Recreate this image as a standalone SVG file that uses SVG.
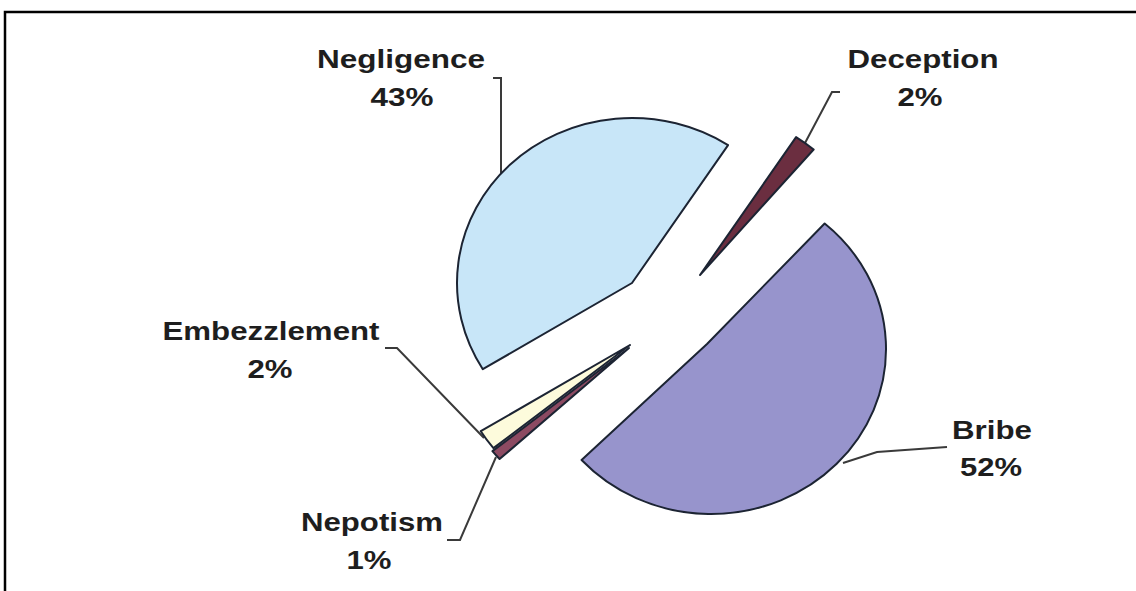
<svg xmlns="http://www.w3.org/2000/svg" width="1136" height="591" viewBox="0 0 1136 591">
<style>
.lbl{font-family:"Liberation Sans",Arial,sans-serif;font-weight:bold;font-size:26px;fill:#1e1e1e;text-anchor:middle}
.slice{stroke:#1c2433;stroke-width:2;stroke-linejoin:round}
.lead{fill:none;stroke:#3a3a3a;stroke-width:2}
</style>
<rect width="1136" height="591" fill="#ffffff"/>
<path d="M5,591 V12 H1136" fill="none" stroke="#000" stroke-width="2.5"/>
<g id="connectors">
<path class="lead" d="M493,78 H501 V175"/>
<path class="lead" d="M840,92 H832 L805,143"/>
<path class="lead" d="M947,447 L877,452 L843,463"/>
<path class="lead" d="M385,348 H397 L484,438"/>
<path class="lead" d="M447,540 H460 L496,457"/>
</g>
<g id="bribe">
<path class="slice" fill="#9794cc" d="M707,344 L824.65,223.53 A175,165 0 1 1 581.57,460.05 Z"/>
<text class="lbl" x="992" y="439" textLength="80" lengthAdjust="spacingAndGlyphs">Bribe</text>
<text class="lbl" x="991" y="476" textLength="62" lengthAdjust="spacingAndGlyphs">52%</text>
</g>
<g id="nepotism">
<path class="slice" fill="#8c4a62" d="M629,348 L499.57,459.05 A175,165 0 0 1 492.43,451.16 Z"/>
<text class="lbl" x="372" y="531" textLength="142" lengthAdjust="spacingAndGlyphs">Nepotism</text>
<text class="lbl" x="369" y="569" textLength="45" lengthAdjust="spacingAndGlyphs">1%</text>
</g>
<g id="embezzlement">
<path class="slice" fill="#fdfbdc" d="M630,345 L493.43,448.16 A175,165 0 0 1 480.79,431.21 Z"/>
<text class="lbl" x="271" y="340" textLength="217" lengthAdjust="spacingAndGlyphs">Embezzlement</text>
<text class="lbl" x="270" y="378" textLength="45" lengthAdjust="spacingAndGlyphs">2%</text>
</g>
<g id="negligence">
<path class="slice" fill="#c8e6f8" d="M632,283 L482.79,369.21 A175,165 0 0 1 728.08,145.09 Z"/>
<text class="lbl" x="401" y="68" textLength="168" lengthAdjust="spacingAndGlyphs">Negligence</text>
<text class="lbl" x="402" y="106" textLength="63" lengthAdjust="spacingAndGlyphs">43%</text>
</g>
<g id="deception">
<path class="slice" fill="#6b2e40" d="M700,275 L796.08,137.09 A175,165 0 0 1 813.65,149.53 Z"/>
<text class="lbl" x="923" y="68" textLength="151" lengthAdjust="spacingAndGlyphs">Deception</text>
<text class="lbl" x="920" y="106" textLength="45" lengthAdjust="spacingAndGlyphs">2%</text>
</g>
</svg>
